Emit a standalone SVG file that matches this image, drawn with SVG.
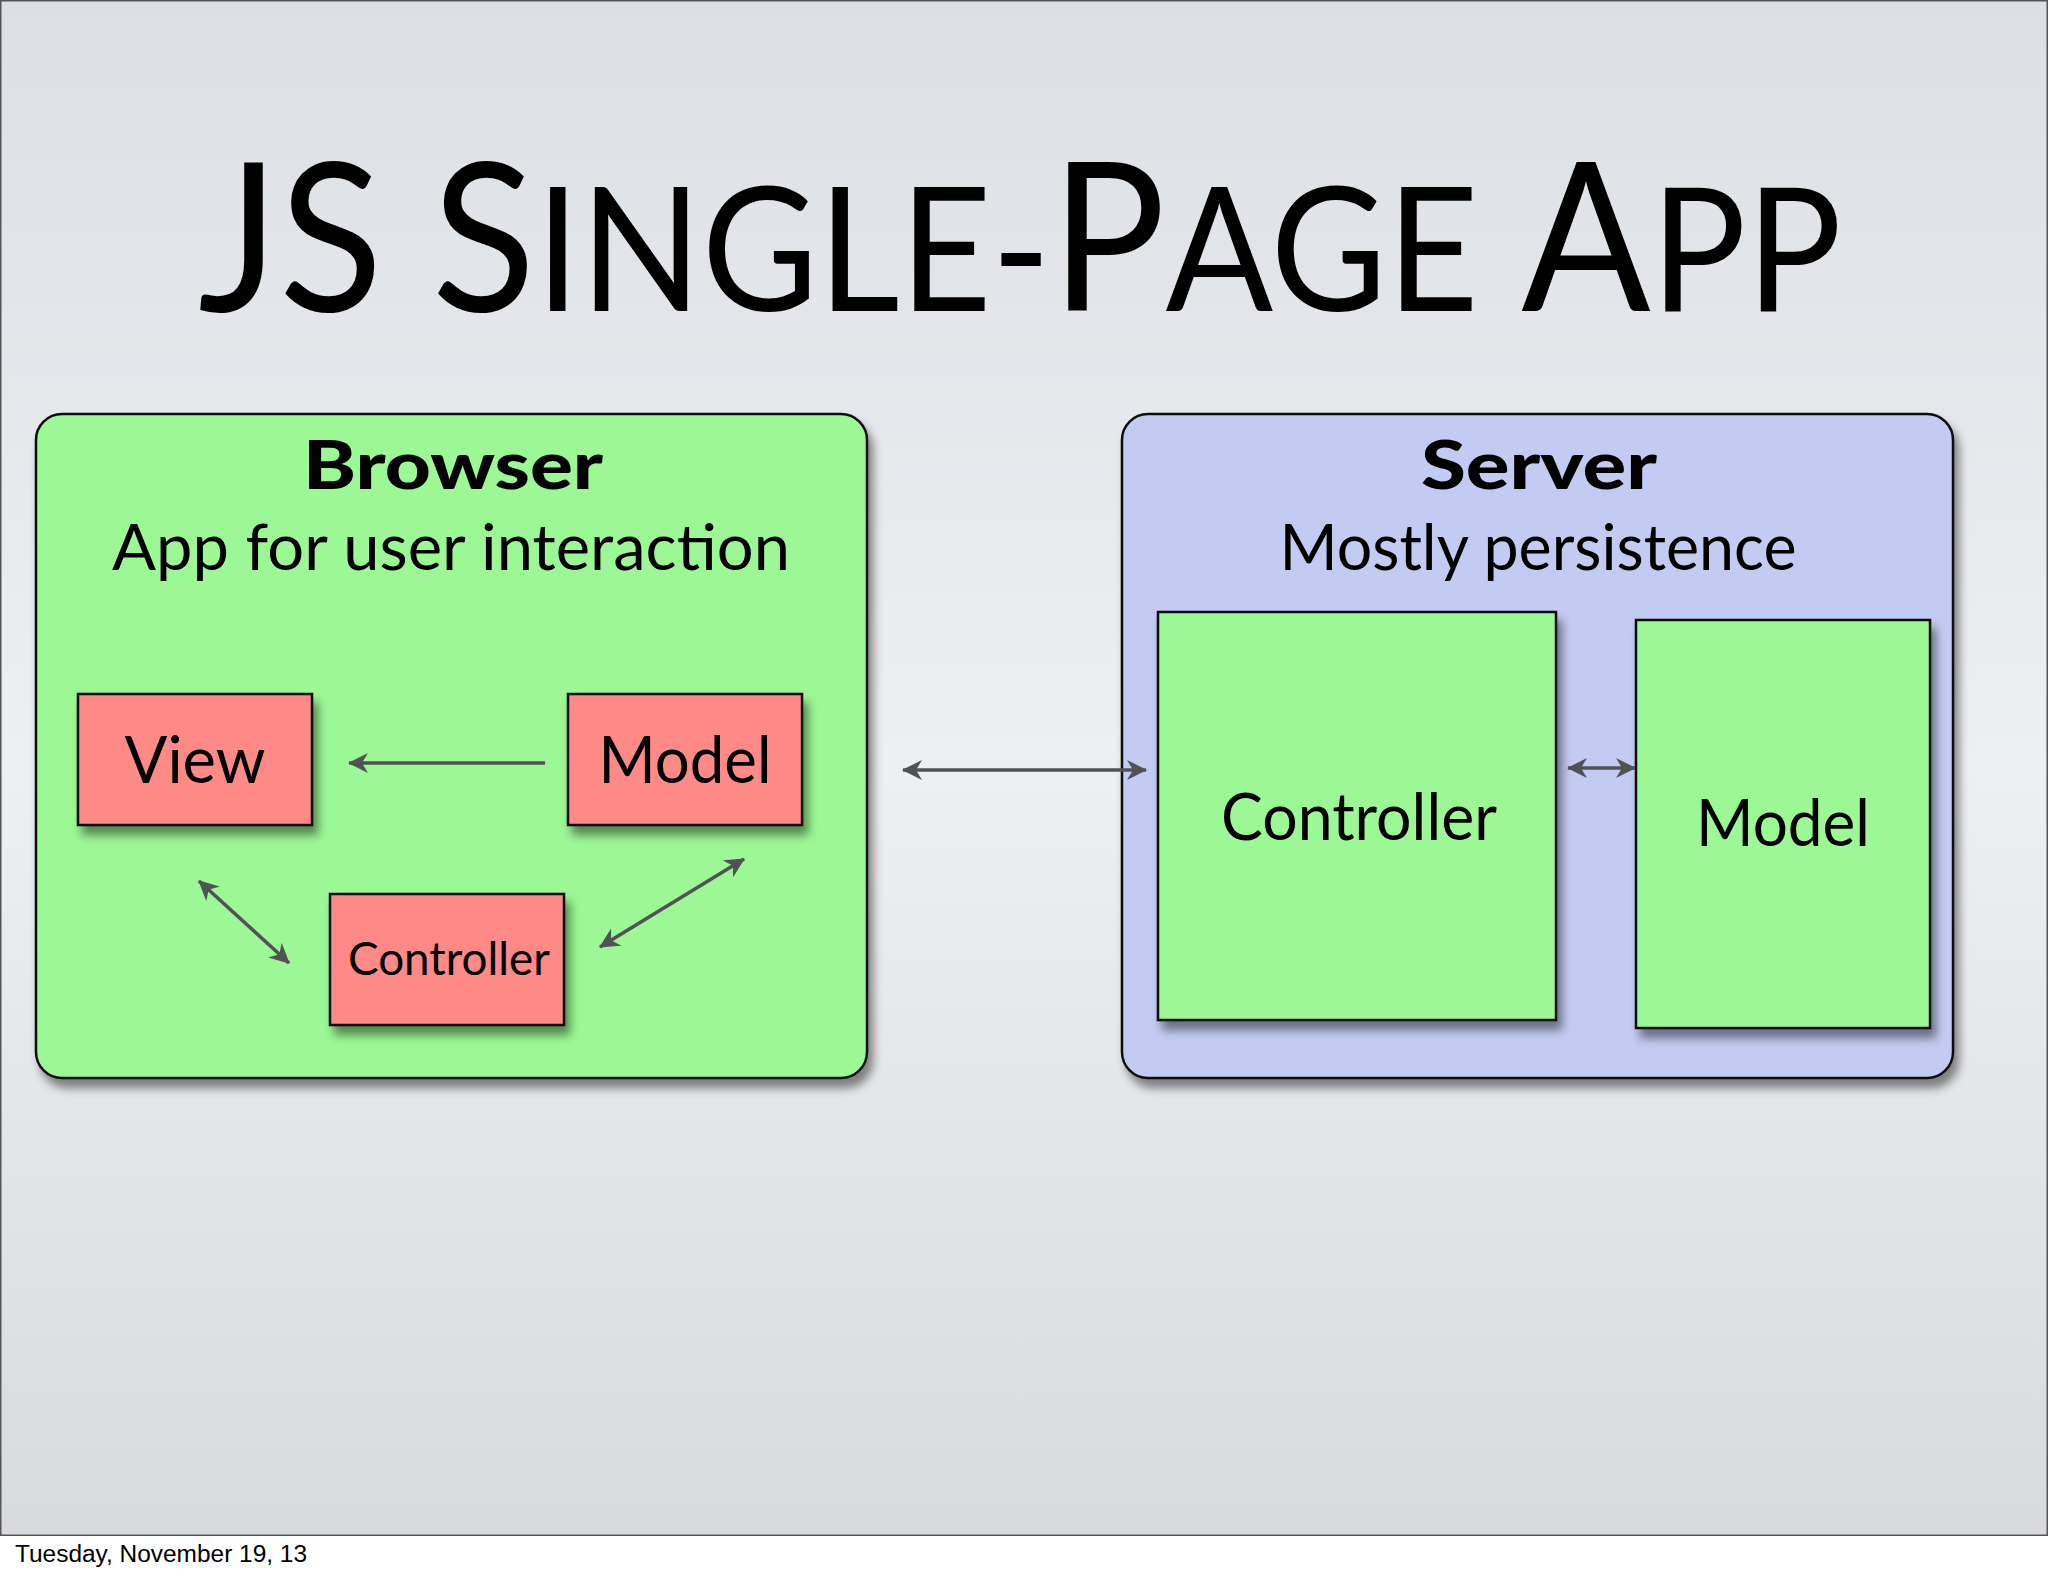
<svg xmlns="http://www.w3.org/2000/svg" width="2048" height="1576" viewBox="0 0 2048 1576">
  <defs>
    <linearGradient id="bg" x1="0" y1="0" x2="0" y2="1">
      <stop offset="0" stop-color="#dcdfe5"/>
      <stop offset="0.5" stop-color="#eeeff2"/>
      <stop offset="1" stop-color="#d9dade"/>
    </linearGradient>
    <filter id="shadow" x="-10%" y="-10%" width="125%" height="130%">
      <feDropShadow dx="5" dy="9" stdDeviation="5" flood-color="#000" flood-opacity="0.45"/>
    </filter>
    <marker id="ah" viewBox="0 0 20 20" refX="19" refY="10" markerWidth="20" markerHeight="20" markerUnits="userSpaceOnUse" orient="auto-start-reverse">
      <path d="M0,0 L20,10 L0,20 L6,10 z" fill="#505256"/>
    </marker>
    <style>
      .group { stroke: #111; stroke-width: 2.5; filter: url(#shadow); }
      .green { fill: #9cf894; }
      .blue { fill: #c3cbf2; }
      .pink { fill: #fd8a86; }
      .box { stroke: #111; stroke-width: 2.5; filter: url(#shadow); }
      .lbl { font-family: Lato, "Open Sans", "Liberation Sans", sans-serif; fill: #000; text-anchor: middle; }
      .hdr { font-family: Lato, "Open Sans", "Liberation Sans", sans-serif; font-weight: 900; fill: #000; text-anchor: middle; }
      .conn { stroke: #505256; stroke-width: 3.5; fill: none; }
    </style>
  </defs>

  <rect x="0" y="0" width="2048" height="1576" fill="#ffffff"/>
  <rect x="0.75" y="0.75" width="2046.5" height="1534.5" fill="url(#bg)" stroke="#555" stroke-width="1.5"/>

  <text x="1020" y="311" transform="matrix(0.92 0 0 1 81.6 0)" text-anchor="middle" font-family="Lato, 'Open Sans', 'Liberation Sans', sans-serif" font-size="208" fill="#000">JS S<tspan font-size="173">INGLE-</tspan>P<tspan font-size="173">AGE</tspan> A<tspan font-size="173">PP</tspan></text>

  <g id="browser">
    <rect class="group green" x="36" y="414" width="831" height="664" rx="26" ry="26"/>
    <text class="hdr" x="453" y="489" font-size="66" textLength="300" lengthAdjust="spacingAndGlyphs">Browser</text>
    <text class="lbl" x="451" y="570" font-size="64" textLength="678" lengthAdjust="spacingAndGlyphs">App for user interaction</text>
  </g>

  <g id="server">
    <rect class="group blue" x="1122" y="414" width="831" height="664" rx="26" ry="26"/>
    <text class="hdr" x="1539" y="489" font-size="66" textLength="236" lengthAdjust="spacingAndGlyphs">Server</text>
    <text class="lbl" x="1538" y="570" font-size="64" textLength="517" lengthAdjust="spacingAndGlyphs">Mostly persistence</text>
  </g>

  <g id="browser-view">
    <rect class="box pink" x="78" y="694" width="234" height="131"/>
    <text class="lbl" x="195" y="783" font-size="66" textLength="141" lengthAdjust="spacingAndGlyphs">View</text>
  </g>

  <g id="browser-model">
    <rect class="box pink" x="568" y="694" width="234" height="131"/>
    <text class="lbl" x="685" y="783" font-size="66" textLength="173" lengthAdjust="spacingAndGlyphs">Model</text>
  </g>

  <g id="browser-controller">
    <rect class="box pink" x="330" y="894" width="234" height="131"/>
    <text class="lbl" x="449" y="975" font-size="47" textLength="202" lengthAdjust="spacingAndGlyphs">Controller</text>
  </g>

  <g id="server-controller">
    <rect class="box green" x="1158" y="612" width="398" height="408"/>
    <text class="lbl" x="1359" y="840" font-size="65" textLength="276" lengthAdjust="spacingAndGlyphs">Controller</text>
  </g>

  <g id="server-model">
    <rect class="box green" x="1636" y="620" width="294" height="408"/>
    <text class="lbl" x="1783" y="846" font-size="66" textLength="174" lengthAdjust="spacingAndGlyphs">Model</text>
  </g>

  <g id="connectors">
    <line class="conn" x1="545" y1="763" x2="349" y2="763" marker-end="url(#ah)"/>
    <line class="conn" x1="199" y1="881" x2="289" y2="963" marker-start="url(#ah)" marker-end="url(#ah)"/>
    <line class="conn" x1="600" y1="947" x2="744" y2="859" marker-start="url(#ah)" marker-end="url(#ah)"/>
    <line class="conn" x1="903" y1="770" x2="1146" y2="770" stroke-width="4" marker-start="url(#ah)" marker-end="url(#ah)"/>
    <line class="conn" x1="1568" y1="768" x2="1635" y2="768" marker-start="url(#ah)" marker-end="url(#ah)"/>
  </g>

  <text x="15" y="1562" font-family="'Liberation Sans', Arial, sans-serif" font-size="23" textLength="292" lengthAdjust="spacingAndGlyphs" fill="#000">Tuesday, November 19, 13</text>
</svg>
